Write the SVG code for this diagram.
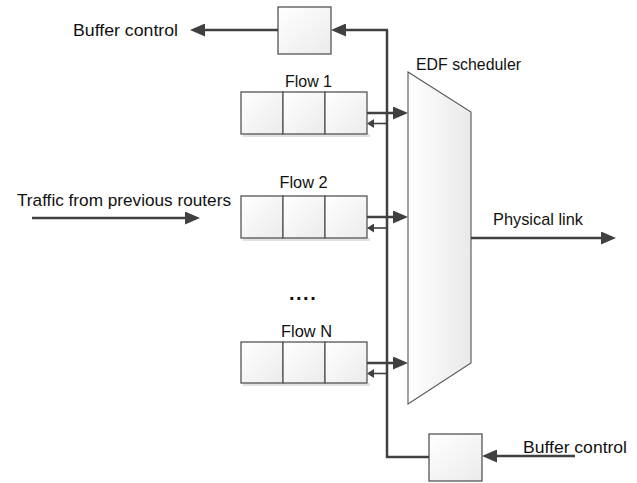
<svg xmlns="http://www.w3.org/2000/svg" width="637" height="483" viewBox="0 0 637 483">
  <defs>
    <linearGradient id="boxFill" x1="0" y1="0" x2="1" y2="1">
      <stop offset="0" stop-color="#ffffff"/>
      <stop offset="1" stop-color="#ebebeb"/>
    </linearGradient>
    <linearGradient id="schedFill" x1="0" y1="0" x2="1" y2="0">
      <stop offset="0" stop-color="#ffffff"/>
      <stop offset="1" stop-color="#e9e9e9"/>
    </linearGradient>
    <marker id="arrowBig" markerUnits="userSpaceOnUse" viewBox="0 0 15 13" refX="11" refY="6.5" markerWidth="15" markerHeight="13" orient="auto">
      <path d="M0,0 L15,6.5 L0,13 z" fill="#404040"/>
    </marker>
    <marker id="arrowSmall" markerUnits="userSpaceOnUse" viewBox="0 0 7 9" refX="5" refY="4.5" markerWidth="7" markerHeight="9" orient="auto">
      <path d="M0,0 L7,4.5 L0,9 z" fill="#404040"/>
    </marker>
  </defs>
  <style>
    text { font-family: "Liberation Sans", Arial, sans-serif; font-size: 17px; fill: #111111; }
    .box { fill: url(#boxFill); stroke: #555555; stroke-width: 1.3; }
    .shadow { fill: #e2e2e2; }
    .sched { fill: url(#schedFill); stroke: #555555; stroke-width: 1.1; }
    .wire { fill: none; stroke: #404040; stroke-width: 2.5; }
    .main { fill: none; stroke: #404040; stroke-width: 2.5; marker-end: url(#arrowBig); }
    .back { fill: none; stroke: #404040; stroke-width: 1.6; marker-end: url(#arrowSmall); }
  </style>

  <rect width="637" height="483" fill="#ffffff"/>

  <!-- EDF scheduler (multiplexer trapezoid) -->
  <g id="scheduler">
    <polygon class="sched" points="408,72 471,112 471,363 408,404"/>
    <text x="416" y="70" textLength="105" lengthAdjust="spacingAndGlyphs">EDF scheduler</text>
  </g>

  <!-- Upper buffer-control unit -->
  <g id="buffer-top">
    <rect class="box" x="278" y="7" width="53" height="47"/>
    <text x="73" y="36" textLength="105" lengthAdjust="spacingAndGlyphs">Buffer control</text>
  </g>

  <!-- Lower buffer-control unit -->
  <g id="buffer-bottom">
    <rect class="box" x="429" y="434" width="53" height="47"/>
    <text x="523" y="453" textLength="104" lengthAdjust="spacingAndGlyphs">Buffer control</text>
  </g>

  <!-- Flow queues, three cells each -->
  <g id="flow-1">
    <rect class="shadow" x="243" y="134" width="127" height="3"/>
    <rect class="box" x="241" y="92" width="42" height="42"/>
    <rect class="box" x="283" y="92" width="42" height="42"/>
    <rect class="box" x="325" y="92" width="42" height="42"/>
    <text x="285" y="86.5" textLength="47" lengthAdjust="spacingAndGlyphs">Flow 1</text>
  </g>

  <g id="flow-2">
    <rect class="shadow" x="243" y="238" width="127" height="3"/>
    <rect class="box" x="241" y="196" width="42" height="42"/>
    <rect class="box" x="283" y="196" width="42" height="42"/>
    <rect class="box" x="325" y="196" width="42" height="42"/>
    <text x="279.5" y="188" textLength="48" lengthAdjust="spacingAndGlyphs">Flow 2</text>
  </g>

  <g id="ellipsis">
    <text x="289" y="300" style="font-weight:bold; font-size:20px" letter-spacing="1.5">....</text>
  </g>

  <g id="flow-n">
    <rect class="shadow" x="243" y="383" width="127" height="3"/>
    <rect class="box" x="241" y="342" width="42" height="41"/>
    <rect class="box" x="283" y="342" width="42" height="41"/>
    <rect class="box" x="325" y="342" width="42" height="41"/>
    <text x="281" y="336.5" textLength="51" lengthAdjust="spacingAndGlyphs">Flow N</text>
  </g>

  <!-- Input / output labels -->
  <g id="input-label">
    <text x="17" y="206" textLength="214" lengthAdjust="spacingAndGlyphs">Traffic from previous routers</text>
  </g>
  <g id="output-label">
    <text x="493" y="225" textLength="90" lengthAdjust="spacingAndGlyphs">Physical link</text>
  </g>

  <!-- Connectors -->
  <g id="connectors">
    <!-- control bus from the lower unit up to the upper unit -->
    <path class="wire" d="M429,457 L387,457 L387,30"/>
    <path class="main" d="M388,30 L335,30"/>
    <path class="main" d="M278,30 L194,30"/>
    <path class="main" d="M575,456 L486,456"/>

    <!-- incoming traffic and outgoing link -->
    <path class="main" d="M32,218 L196,218"/>
    <path class="main" d="M471,238 L612,238"/>

    <!-- queue heads to scheduler -->
    <path class="main" d="M367,113 L404,113"/>
    <path class="main" d="M367,217 L404,217"/>
    <path class="main" d="M367,363 L404,363"/>

    <!-- control feedback to queues -->
    <path class="back" d="M387,123.5 L369,123.5"/>
    <path class="back" d="M387,228 L369,228"/>
    <path class="back" d="M387,373.5 L369,373.5"/>
  </g>
</svg>
